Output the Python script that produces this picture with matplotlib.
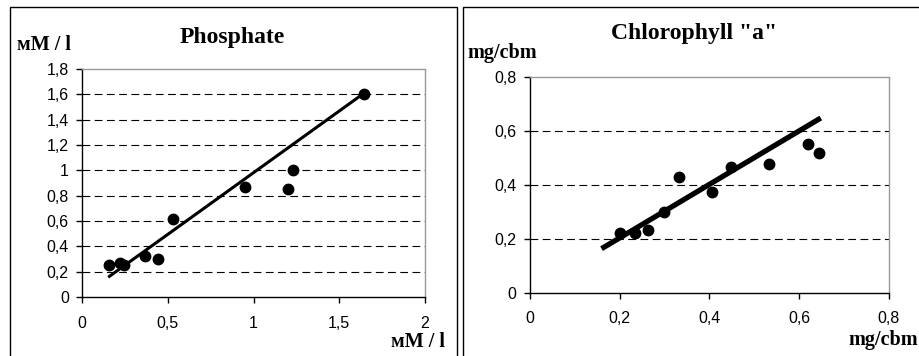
import matplotlib.pyplot as plt
from matplotlib.patches import Rectangle

# Phosphate panel
phos_x = [0.155, 0.22, 0.243, 0.369, 0.443, 0.53, 0.951, 1.20, 1.229, 1.645]
phos_y = [0.25, 0.27, 0.25, 0.326, 0.302, 0.615, 0.872, 0.851, 1.004, 1.605]
phos_fit_x = [0.16, 1.63]
phos_fit_y = [0.163, 1.595]
phos_xticks = [0, 0.5, 1, 1.5, 2]
phos_xlabels = ["0", "0,5", "1", "1,5", "2"]
phos_yticks = [0, 0.2, 0.4, 0.6, 0.8, 1.0, 1.2, 1.4, 1.6, 1.8]
phos_ylabels = ["0", "0,2", "0,4", "0,6", "0,8", "1", "1,2", "1,4", "1,6", "1,8"]

# Chlorophyll panel
chl_x = [0.202, 0.234, 0.263, 0.298, 0.332, 0.405, 0.448, 0.533, 0.62, 0.644]
chl_y = [0.22, 0.22, 0.232, 0.299, 0.428, 0.372, 0.467, 0.477, 0.551, 0.519]
chl_fit_x = [0.165, 0.643]
chl_fit_y = [0.168, 0.642]
chl_xticks = [0, 0.2, 0.4, 0.6, 0.8]
chl_xlabels = ["0", "0,2", "0,4", "0,6", "0,8"]
chl_yticks = [0, 0.2, 0.4, 0.6, 0.8]
chl_ylabels = ["0", "0,2", "0,4", "0,6", "0,8"]

plt.rcParams['font.family'] = ['Liberation Sans', 'DejaVu Sans']
serif = ['Liberation Serif', 'DejaVu Serif']

W, H = 919, 356
fig = plt.figure(figsize=(W / 100, H / 100), dpi=100)


def fx(px):
    return px / W


def fy(py):
    return 1 - py / H


# panel frames
fig.patches.append(Rectangle((fx(9.5), fy(400)), fx(447.5), fy(7) - fy(400),
                             transform=fig.transFigure, fill=False, lw=1, ec='black'))
fig.patches.append(Rectangle((fx(463), fy(400)), fx(500), fy(7) - fy(400),
                             transform=fig.transFigure, fill=False, lw=1, ec='black'))


def style_axes(ax, xticks, xlabels, yticks, ylabels, ymax):
    ax.set_xticks(xticks)
    ax.set_xticklabels(xlabels)
    ax.set_yticks(yticks)
    ax.set_yticklabels(ylabels)
    ax.set_xlim(xticks[0], xticks[-1])
    ax.set_ylim(0, ymax)
    for s in ['top', 'right']:
        ax.spines[s].set_color('#999999')
        ax.spines[s].set_linewidth(1)
    for s in ['left', 'bottom']:
        ax.spines[s].set_color('black')
        ax.spines[s].set_linewidth(1)
    ax.tick_params(axis='both', direction='out', length=4.5, width=1, labelsize=11.5)
    ax.tick_params(axis='x', pad=9)
    ax.tick_params(axis='y', pad=5)
    for t in yticks[1:-1]:
        ax.axhline(t, color='black', lw=0.8, ls=(0, (7, 4)), zorder=1)


ax1 = fig.add_axes([fx(82), fy(297), fx(425) - fx(82), fy(69) - fy(297)])
style_axes(ax1, phos_xticks, phos_xlabels, phos_yticks, phos_ylabels, 1.8)
ax1.plot(phos_fit_x, phos_fit_y, color='black', lw=2.2, zorder=2)
ax1.plot(phos_x, phos_y, 'o', color='black', ms=7.5, zorder=3)

ax2 = fig.add_axes([fx(529.7), fy(292.7), fx(889) - fx(529.7), fy(76.7) - fy(292.7)])
style_axes(ax2, chl_xticks, chl_xlabels, chl_yticks, chl_ylabels, 0.8)
ax2.plot(chl_fit_x, chl_fit_y, color='black', lw=3.8, zorder=2)
ax2.plot(chl_x, chl_y, 'o', color='black', ms=7.5, zorder=3)

# titles and unit labels
fig.text(fx(232), fy(37), "Phosphate", family=serif, weight='bold', fontsize=17,
         ha='center', va='center')
fig.text(fx(694), fy(34), 'Chlorophyll "a"', family=serif, weight='bold', fontsize=17,
         ha='center', va='center')
fig.text(fx(17), fy(45), "мM / l", family=serif, weight='bold', fontsize=14.5,
         ha='left', va='center')
fig.text(fx(445), fy(342), "мM / l", family=serif, weight='bold', fontsize=14.5,
         ha='right', va='center')
fig.text(fx(467), fy(53), "mg/cbm", family=serif, weight='bold', fontsize=14.5,
         ha='left', va='center')
fig.text(fx(918), fy(340), "mg/cbm", family=serif, weight='bold', fontsize=14.5,
         ha='right', va='center')

fig.savefig("out.png", dpi=100)
